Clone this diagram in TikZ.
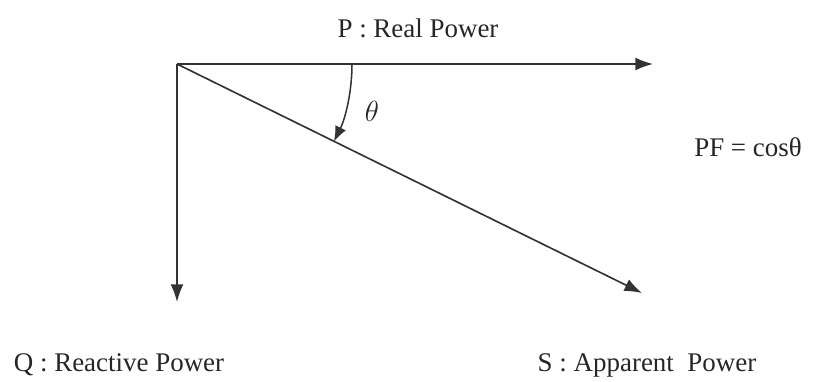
\documentclass[tikz,border=0pt]{standalone}
\usepackage{fontspec}
\setmainfont{Liberation Serif}
\usetikzlibrary{arrows.meta}

\begin{document}
\begin{tikzpicture}[x=0.03cm,y=-0.03cm,font=\fontsize{23}{27}\selectfont,
  vec/.style={draw=black!80,line width=1.4pt,-{Latex[length=15pt,width=11pt]}},
  angarr/.style={draw=black!80,line width=1.3pt,-{Latex[length=13pt,width=10pt]}},
  lbl/.style={text=black!85,inner sep=0pt}]
\useasboundingbox (0,0) rectangle (814,381);
% vertex and tips
\coordinate (O) at (177,64);
\coordinate (ptip) at (653,64);
\coordinate (qtip) at (177,302);
\coordinate (stip) at (642,293);
% labels
\node[lbl] (plbl) at (418,28) {P : Real Power};
\node[lbl] (qlbl) at (119,365) {Q : Reactive Power};
\node[lbl] (slbl) at (647,365) {S : Apparent~ Power};
\node[lbl] (pflbl) at (748,147) {PF = cosθ};
\node[lbl,font=\fontsize{25}{29}\selectfont] (theta) at (372,111) {$\theta$};
% vectors
\draw[vec] (O) -- (ptip);
\draw[vec] (O) -- (qtip);
\draw[vec] (O) -- (stip);
\draw[angarr] ([shift={(0:175)}]O) arc[start angle=0,end angle=26.3,radius=175];
\end{tikzpicture}
\end{document}
